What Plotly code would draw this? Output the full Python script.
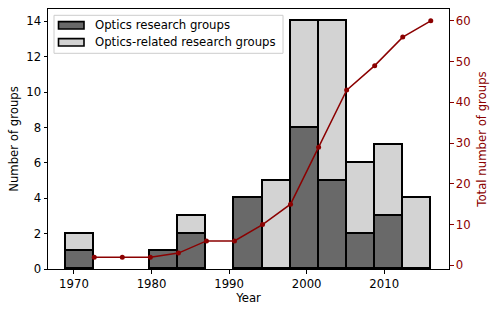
import numpy as np
import plotly.graph_objects as go

bin_start = 1969.0
bin_end = 2016.0
n_bins = 13
optics = [1, 0, 0, 1, 2, 0, 4, 0, 8, 5, 2, 3, 0]
related = [1, 0, 0, 0, 1, 0, 0, 5, 6, 9, 4, 4, 4]
cumulative = [2, 2, 2, 3, 6, 6, 10, 15, 29, 43, 49, 56, 60]
series_names = ["Optics research groups", "Optics-related research groups"]
series_colors = ["#696969", "#D3D3D3"]

edges = np.linspace(bin_start, bin_end, n_bins + 1)
centers = (edges[:-1] + edges[1:]) / 2
width = edges[1] - edges[0]

FS = 11.7
font = dict(family="DejaVu Sans", size=FS, color="black")
red = "#8B0000"

fig = go.Figure()
for vals, name, col in zip([optics, related], series_names, series_colors):
    lw = [1.6 if v else 0 for v in vals]  # empty bins get no outline
    fig.add_trace(go.Bar(x=centers, y=vals, width=width, name=name, showlegend=False,
                         marker=dict(color=col, line=dict(color="black", width=lw))))
fig.add_trace(go.Scatter(x=edges[1:], y=cumulative, yaxis="y2", mode="lines+markers",
                         line=dict(color=red, width=1.5), marker=dict(color=red, size=5),
                         showlegend=False))

# plot-area geometry (pixels) for the manual legend
L, R, T, B = 48, 449, 8.7, 268.7
def px(x):
    return (x - L) / (R - L)
def py(y):
    return (B - y) / (B - T)

shapes = [dict(type="rect", xref="paper", yref="paper", x0=px(54), x1=px(283), y0=py(53), y1=py(15),
               line=dict(color="#cccccc", width=1), fillcolor="rgba(255,255,255,0.8)", layer="above")]
annotations = []
for i, (name, col) in enumerate(zip(series_names, series_colors)):
    yc = 25 + 17 * i
    shapes.append(dict(type="rect", xref="paper", yref="paper", x0=px(58.5), x1=px(84), y0=py(yc + 3.7),
                       y1=py(yc - 3.7), line=dict(color="black", width=1.6), fillcolor=col, layer="above"))
    annotations.append(dict(xref="paper", yref="paper", x=px(92.5), y=py(yc), xanchor="left", yanchor="middle",
                            text=name, showarrow=False, font=dict(family="DejaVu Sans", size=FS, color="black")))

fig.update_layout(
    width=498, height=314,
    margin=dict(l=48, r=49, t=9, b=45),
    paper_bgcolor="white", plot_bgcolor="white",
    barmode="stack", bargap=0,
    font=font,
    showlegend=False,
    hovermode=False,
    shapes=shapes, annotations=annotations,
    xaxis=dict(range=[1966.65, 2018.35], tickmode="array", tickvals=[1970, 1980, 1990, 2000, 2010],
               ticks="outside", ticklen=3.5, tickcolor="black", showline=True, linecolor="black",
               linewidth=1, mirror=True, showgrid=False, zeroline=False, automargin=False,
               title=dict(text="Year", standoff=4, font=font)),
    yaxis=dict(range=[0, 14.7], tickmode="array", tickvals=[0, 2, 4, 6, 8, 10, 12, 14],
               ticks="outside", ticklen=3.5, tickcolor="black", showline=True, linecolor="black",
               linewidth=1, mirror=True, showgrid=False, zeroline=False, automargin=False,
               title=dict(text="Number of groups", standoff=5, font=font)),
    yaxis2=dict(range=[-0.9, 62.9], overlaying="y", side="right", tickmode="array",
                tickvals=[0, 10, 20, 30, 40, 50, 60], ticks="outside", ticklen=3.5, tickcolor=red,
                tickfont=dict(family="DejaVu Sans", size=FS, color=red),
                showline=False, showgrid=False, zeroline=False, automargin=False,
                title=dict(text="Total number of groups", standoff=8,
                           font=dict(family="DejaVu Sans", size=FS, color=red))),
)

fig.write_html("out.html", config={"displayModeBar": False},
               post_script="document.body.style.margin='0';")
